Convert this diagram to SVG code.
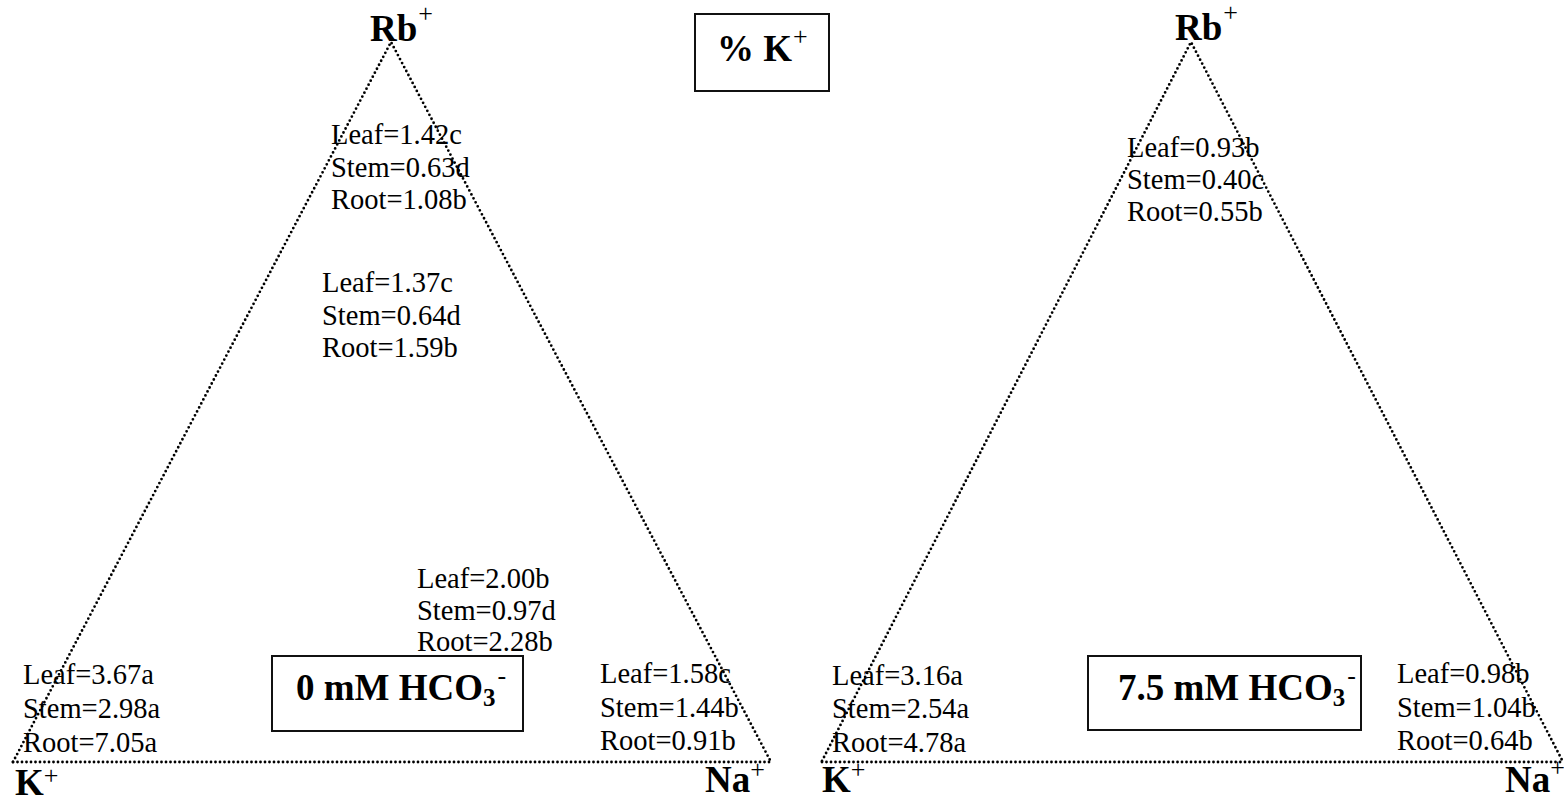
<svg xmlns="http://www.w3.org/2000/svg" width="1564" height="801" viewBox="0 0 1564 801">
<style>
.dot{fill:none;stroke:#000;stroke-width:2.8;stroke-linecap:round;stroke-dasharray:0 4.5}
.v{font-family:"Liberation Serif","Times New Roman",serif;font-size:28.5px;fill:#000}
.b{font-family:"Liberation Serif","Times New Roman",serif;font-size:37px;font-weight:bold;fill:#000}
.sup{font-size:26px;font-weight:normal}
.sub{font-size:25px}
.box{fill:#fff;stroke:#111;stroke-width:2}
</style>
<rect width="1564" height="801" fill="#fff"/>
<g id="connectors">
<path class="dot" d="M13,762 L391,42 L771,762"/>
<path class="dot" d="M13,762 L771,762"/>
<path class="dot" d="M822,761 L1191,42 L1563,762"/>
<path class="dot" d="M822,762 L1563,762"/>
</g>
<g id="title">
<rect class="box" x="695" y="14" width="134" height="77"/>
<text class="b" x="717" y="61">% K<tspan class="sup" dx="1" dy="-16">+</tspan></text>
</g>
<g id="left-rb"><text class="b" x="370" y="41">Rb<tspan class="sup" dx="1" dy="-19">+</tspan></text></g>
<g id="left-k"><text class="b" x="15" y="795">K<tspan class="sup" dy="-11">+</tspan></text></g>
<g id="left-na"><text class="b" x="705" y="792">Na<tspan class="sup" dy="-14">+</tspan></text></g>
<g id="right-rb"><text class="b" x="1175" y="40">Rb<tspan class="sup" dx="1" dy="-19">+</tspan></text></g>
<g id="right-k"><text class="b" x="822" y="792">K<tspan class="sup" dy="-14">+</tspan></text></g>
<g id="right-na"><text class="b" x="1505" y="792">Na<tspan class="sup" dy="-16">+</tspan></text></g>
<g id="left-box">
<rect class="box" x="272" y="656" width="251" height="75"/>
<text class="b" x="296" y="700">0 mM HCO<tspan class="sub" dy="6">3</tspan><tspan class="sup" dx="2" dy="-22">-</tspan></text>
</g>
<g id="right-box">
<rect class="box" x="1088" y="656" width="273" height="74"/>
<text class="b" x="1118" y="700">7.5 mM HCO<tspan class="sub" dy="6">3</tspan><tspan class="sup" dx="2" dy="-22">-</tspan></text>
</g>
<g id="left-top-values">
<text class="v" x="331" y="144">Leaf=1.42c</text>
<text class="v" x="331" y="177">Stem=0.63d</text>
<text class="v" x="331" y="209">Root=1.08b</text>
</g>
<g id="left-mid-values">
<text class="v" x="322" y="292">Leaf=1.37c</text>
<text class="v" x="322" y="325">Stem=0.64d</text>
<text class="v" x="322" y="357">Root=1.59b</text>
</g>
<g id="left-center-values">
<text class="v" x="417" y="588">Leaf=2.00b</text>
<text class="v" x="417" y="620">Stem=0.97d</text>
<text class="v" x="417" y="651">Root=2.28b</text>
</g>
<g id="left-k-values">
<text class="v" x="23" y="684">Leaf=3.67a</text>
<text class="v" x="23" y="718">Stem=2.98a</text>
<text class="v" x="23" y="752">Root=7.05a</text>
</g>
<g id="left-na-values">
<text class="v" x="600" y="683">Leaf=1.58c</text>
<text class="v" x="600" y="717">Stem=1.44b</text>
<text class="v" x="600" y="750">Root=0.91b</text>
</g>
<g id="right-top-values">
<text class="v" x="1127" y="157">Leaf=0.93b</text>
<text class="v" x="1127" y="189">Stem=0.40c</text>
<text class="v" x="1127" y="221">Root=0.55b</text>
</g>
<g id="right-k-values">
<text class="v" x="832" y="685">Leaf=3.16a</text>
<text class="v" x="832" y="718">Stem=2.54a</text>
<text class="v" x="832" y="752">Root=4.78a</text>
</g>
<g id="right-na-values">
<text class="v" x="1397" y="683">Leaf=0.98b</text>
<text class="v" x="1397" y="717">Stem=1.04b</text>
<text class="v" x="1397" y="750">Root=0.64b</text>
</g>
</svg>
